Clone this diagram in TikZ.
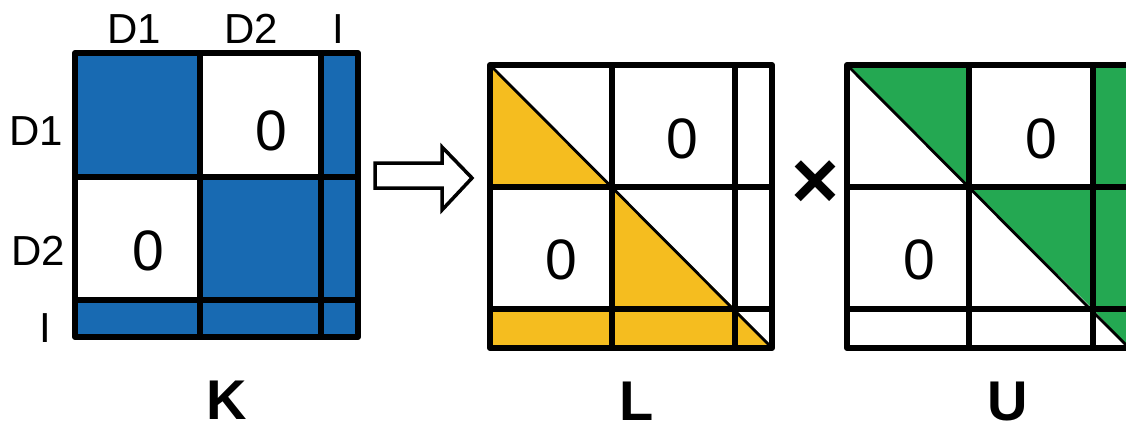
\documentclass[tikz,border=0pt]{standalone}
\usepackage{fontspec}
\setmainfont{Liberation Sans}
\definecolor{kblue}{RGB}{24,106,178}
\definecolor{lyellow}{RGB}{245,189,31}
\definecolor{ugreen}{RGB}{36,168,82}
\begin{document}
\begin{tikzpicture}[x=1pt,y=-1pt,
  outer/.style={line width=6pt,line join=round},
  inner/.style={line width=5.5pt},
  diag/.style={line width=2.8pt},
  lab/.style={anchor=base,inner sep=0pt,font=\fontsize{42}{42}\selectfont},
  zero/.style={anchor=base,inner sep=0pt,font=\fontsize{57}{57}\selectfont},
  mname/.style={anchor=base,inner sep=0pt,font=\fontsize{56}{56}\selectfont\bfseries}]
\useasboundingbox (0,0) rectangle (1126,425);
\clip (0,0) rectangle (1126,425);

% ---------- K ----------
\fill[kblue] (75,53) rectangle (358,337);
\fill[white] (200,53) rectangle (321,177);
\fill[white] (75,177) rectangle (200,300);
\draw[inner] (200,53) -- (200,337) (321,53) -- (321,337)
             (75,177) -- (358,177) (75,300) -- (358,300);
\draw[outer] (75,53) rectangle (358,337);
\node[lab] (kc1) at (134,44) {D1};
\node[lab] (kc2) at (251,44) {D2};
\node[lab] (kc3) at (338,44) {I};
\node[lab] (kr1) at (36,145) {D1};
\node[lab] (kr2) at (38,265) {D2};
\node[lab] (kr3) at (45,342) {I};
\node[zero] (kz1) at (271,150) {0};
\node[zero] (kz2) at (148,270) {0};
\node[mname] (kn) at (227,419) {K};

% ---------- arrow ----------
\draw[line width=3.5pt,line join=miter,fill=white]
  (375,163) -- (442,163) -- (442,147) -- (472,178) -- (442,210) -- (442,188) -- (375,188) -- cycle;

% ---------- L ----------
\fill[lyellow] (490,65) -- (490,187) -- (612,187) -- cycle;
\fill[lyellow] (612,187) -- (612,309) -- (735,309) -- cycle;
\fill[lyellow] (490,309) rectangle (735,348);
\fill[lyellow] (735,309) -- (735,348) -- (772,348) -- cycle;
\draw[diag] (490,65) -- (772,348);
\draw[inner] (612,65) -- (612,348) (735,65) -- (735,348)
             (490,187) -- (772,187) (490,309) -- (772,309);
\draw[outer] (490,65) rectangle (772,348);
\node[zero] (lz1) at (682,158) {0};
\node[zero] (lz2) at (561,279) {0};
\node[mname] (ln) at (637,420) {L};

% ---------- times ----------
\node[inner sep=0pt,font=\fontsize{82}{82}\selectfont\bfseries] (times) at (815,185) {×};

% ---------- U ----------
\fill[ugreen] (847,65) -- (969,65) -- (969,187) -- cycle;
\fill[ugreen] (969,187) -- (1093,187) -- (1093,309) -- cycle;
\fill[ugreen] (1093,65) rectangle (1129,309);
\fill[ugreen] (1093,309) -- (1129,309) -- (1129,348) -- cycle;
\draw[diag] (847,65) -- (1129,348);
\draw[inner] (969,65) -- (969,348) (1093,65) -- (1093,348)
             (847,187) -- (1129,187) (847,309) -- (1129,309);
\draw[outer] (847,65) rectangle (1129,348);
\node[zero] (uz1) at (1041,158) {0};
\node[zero] (uz2) at (919,279) {0};
\node[mname] (un) at (1008,420) {U};
\end{tikzpicture}
\end{document}
